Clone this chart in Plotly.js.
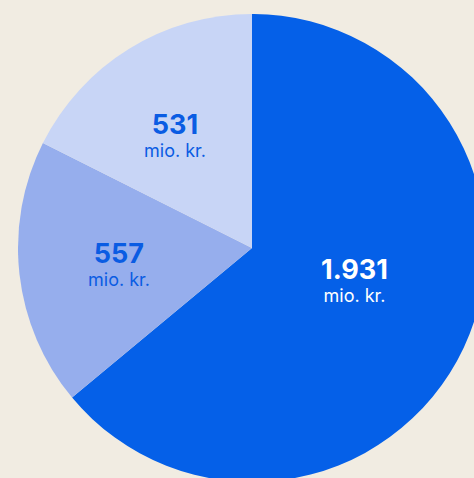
<!DOCTYPE html>
<html>
<head>
<meta charset="utf-8">
<script src="https://cdn.plot.ly/plotly-3.0.1.min.js"></script>
<style>
  html, body { margin: 0; padding: 0; overflow: hidden; background: #f1ece2; }
  #plot { position: absolute; left: 0; top: 0; }
</style>
</head>
<body>
<div id="plot"></div>
<script>
const labels = ['A', 'B', 'C'];
const values = [1931, 557, 531];
const unitLabel = 'mio. kr.';
const sliceColors = ['#0560e8', '#96aeed', '#c8d5f6'];
const labelColors = ['#ffffff', '#0a5ce3', '#0a5ce3'];
// label placement: fraction of radius, and turn (degrees) from the slice's middle
const labelRadius = [0.46, 0.57, 0.585];
const labelTurn = [-8, 0, -2.5];

const fmt = v => v.toString().replace(/\B(?=(\d{3})+(?!\d))/g, '.');

const trace = {
    type: 'pie',
    labels: labels,
    values: values,
    sort: false,
    direction: 'clockwise',
    rotation: 0,
    marker: { colors: sliceColors, line: { width: 0 } },
    textinfo: 'none',
    hoverinfo: 'skip',
    showlegend: false
};

// put each label near the middle angle of its slice
const total = values.reduce((a, b) => a + b, 0);
let start = 0;
const annotations = values.map((v, i) => {
    const mid = (start + v / 2) / total * 2 * Math.PI + labelTurn[i] * Math.PI / 180;
    start += v;
    const r = 0.5 * labelRadius[i];
    return {
        xref: 'paper', yref: 'paper',
        x: 0.5 + r * Math.sin(mid),
        y: 0.5 + r * Math.cos(mid),
        xanchor: 'center', yanchor: 'middle',
        showarrow: false,
        align: 'center',
        text: '<span style="font-size:27px;font-weight:bold">' + fmt(v) + '</span><br>' + unitLabel,
        font: { family: 'Inter, sans-serif', size: 18, color: labelColors[i] }
    };
});

const layout = {
    width: 520,
    height: 520,
    margin: { l: 18, t: 14, r: 34, b: 38 },
    paper_bgcolor: '#f1ece2',
    plot_bgcolor: '#f1ece2',
    showlegend: false,
    annotations: annotations
};

Plotly.newPlot('plot', [trace], layout, { displayModeBar: false, staticPlot: true });
</script>
</body>
</html>
